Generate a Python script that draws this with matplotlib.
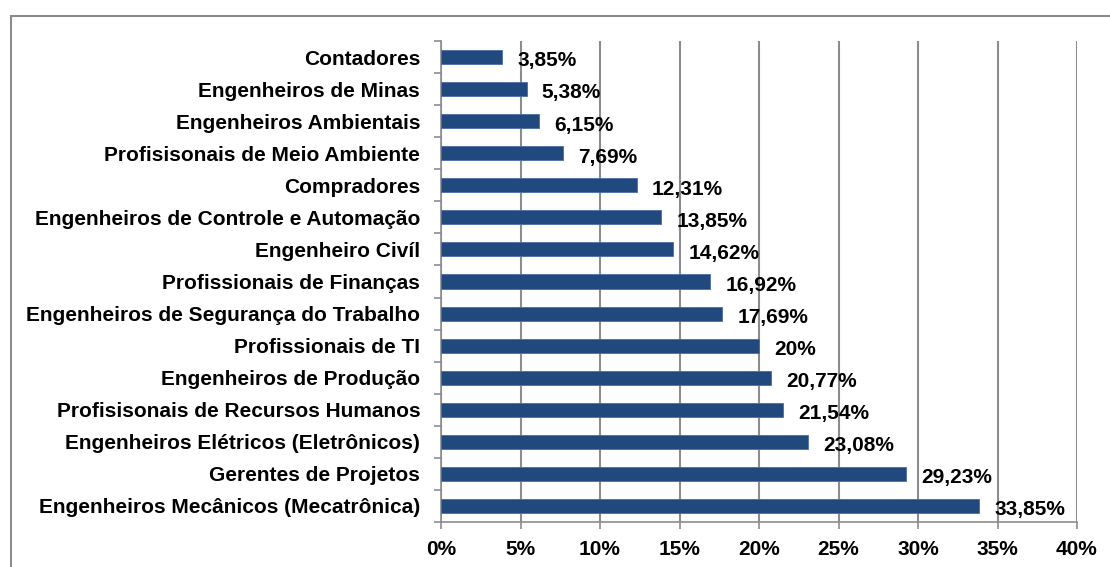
import matplotlib.pyplot as plt
from matplotlib.patches import Rectangle
from matplotlib.ticker import FixedLocator

plt.rcParams['font.family'] = ['Liberation Sans', 'DejaVu Sans']

categorias = ["Contadores", "Engenheiros de Minas", "Engenheiros Ambientais",
              "Profisisonais de Meio Ambiente", "Compradores",
              "Engenheiros de Controle e Automação", "Engenheiro Civíl",
              "Profissionais de Finanças", "Engenheiros de Segurança do Trabalho",
              "Profissionais de TI", "Engenheiros de Produção",
              "Profisisonais de Recursos Humanos", "Engenheiros Elétricos (Eletrônicos)",
              "Gerentes de Projetos", "Engenheiros Mecânicos (Mecatrônica)"]
valores = [3.85, 5.38, 6.15, 7.69, 12.31, 13.85, 14.62, 16.92, 17.69, 20.0,
           20.77, 21.54, 23.08, 29.23, 33.85]
rotulos = ["3,85%", "5,38%", "6,15%", "7,69%", "12,31%", "13,85%", "14,62%",
           "16,92%", "17,69%", "20%", "20,77%", "21,54%", "23,08%", "29,23%", "33,85%"]
xticks = [0, 5, 10, 15, 20, 25, 30, 35, 40]

W, H = 1110, 567
fig = plt.figure(figsize=(W / 100, H / 100), dpi=100)
ax = fig.add_axes([441 / W, 1 - 522 / H, (1077 - 441) / W, (522 - 41) / H])

cor = '#22497D'
grid = '#8C8C8C'
fs = 15
n = len(categorias)
ypos = list(range(n))
ax.barh(ypos, valores, height=0.44, color=cor, edgecolor='#4A6FA5', linewidth=0.6, zorder=3)
ax.set_ylim(n - 0.5, -0.5)
ax.set_xlim(0, 40)

for y, v, r in zip(ypos, valores, rotulos):
    ax.text(v + 0.95, y + 0.12, r, ha='left', va='center', fontsize=fs,
            fontweight='bold', color='black', zorder=4)

ax.set_yticks(ypos)
ax.set_yticklabels(categorias, fontsize=fs, fontweight='bold')
ax.tick_params(axis='y', which='major', length=0, pad=15)
ax.yaxis.set_minor_locator(FixedLocator([i - 0.5 for i in range(n + 1)]))
ax.tick_params(axis='y', which='minor', length=5, color=grid, width=1.2)

ax.set_xticks(xticks)
ax.set_xticklabels([f"{t}%" for t in xticks], fontsize=fs, fontweight='bold')
ax.tick_params(axis='x', length=5, color=grid, width=1.2, pad=8)

ax.grid(axis='x', color=grid, linewidth=1.5, zorder=0)
for s in ['top', 'right']:
    ax.spines[s].set_visible(False)
for s in ['left', 'bottom']:
    ax.spines[s].set_color(grid)
    ax.spines[s].set_linewidth(1.2)

fig.patches.append(Rectangle((11 / W, -0.1), 1.2, 1 - 16 / H + 0.1,
                             transform=fig.transFigure, fill=False,
                             edgecolor='#8C8C8C', linewidth=1.5))

fig.savefig('out.png', dpi=100)
